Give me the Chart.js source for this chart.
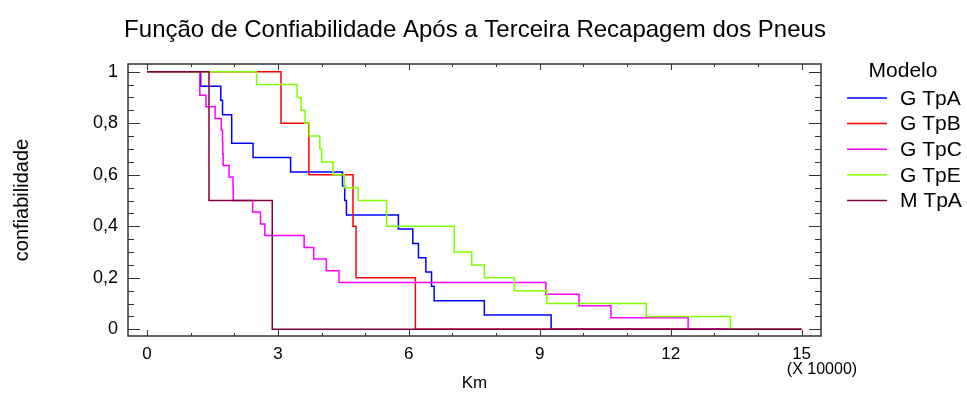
<!DOCTYPE html>
<html>
<head>
<meta charset="utf-8">
<script src="https://cdn.jsdelivr.net/npm/chart.js@4.4.1/dist/chart.umd.min.js"></script>
<style>
  html, body { margin: 0; padding: 0; background: #ffffff; }
  #wrap { width: 967px; height: 394px; }
</style>
</head>
<body>
<div id="wrap"><canvas id="c" width="967" height="394"></canvas></div>
<script>
// Kaplan-Meier reliability curves, distance in units of 10000 km
const seriesLabels = ['G TpA', 'G TpB', 'G TpC', 'G TpE', 'M TpA'];
const seriesColors = ['#0000ff', '#ff0000', '#ff00ff', '#80ff00', '#800040'];

const gtpaKm   = [0, 1.23, 1.69, 1.73, 1.94, 2.43, 3.29, 4.48, 4.53, 4.57, 5.76, 6.09, 6.22, 6.39, 6.52, 6.58, 7.73, 9.26, 15];
const gtpaConf = [1, 0.944, 0.889, 0.833, 0.722, 0.667, 0.611, 0.556, 0.5, 0.444, 0.389, 0.333, 0.278, 0.222, 0.167, 0.111, 0.056, 0, 0];

const gtpbKm   = [0, 3.07, 3.71, 4.72, 4.79, 6.15, 15];
const gtpbConf = [1, 0.8, 0.6, 0.4, 0.2, 0, 0];

const gtpcKm   = [0, 1.21, 1.35, 1.56, 1.70, 1.73, 1.735, 1.745, 1.88, 1.97, 1.975, 2.42, 2.60, 2.70, 3.60, 3.82, 4.11, 4.40, 9.14, 9.90, 10.63, 12.40, 15];
const gtpcConf = [1, 0.909, 0.864, 0.818, 0.773, 0.727, 0.682, 0.636, 0.591, 0.545, 0.5, 0.455, 0.409, 0.364, 0.318, 0.273, 0.227, 0.182, 0.136, 0.091, 0.045, 0, 0];

const gtpeKm   = [0, 2.51, 3.44, 3.53, 3.62, 3.72, 3.96, 4.00, 4.26, 4.52, 4.84, 5.49, 7.04, 7.44, 7.73, 8.42, 9.16, 11.44, 13.37, 15];
const gtpeConf = [1, 0.95, 0.9, 0.85, 0.8, 0.75, 0.7, 0.65, 0.6, 0.55, 0.5, 0.4, 0.3, 0.25, 0.2, 0.15, 0.1, 0.05, 0, 0];

const mtpaKm   = [0, 1.42, 2.87, 15];
const mtpaConf = [1, 0.5, 0, 0];

const seriesKm   = [gtpaKm, gtpbKm, gtpcKm, gtpeKm, mtpaKm];
const seriesConf = [gtpaConf, gtpbConf, gtpcConf, gtpeConf, mtpaConf];

// axis ticks
const xTickValues = [0, 3, 6, 9, 12, 15];
const xMinorTicks = [1, 2, 4, 5, 7, 8, 10, 11, 13, 14];
const yTickValues = [0, 0.2, 0.4, 0.6, 0.8, 1];
const yMinorTicks = [0.05, 0.1, 0.15, 0.25, 0.3, 0.35, 0.45, 0.5, 0.55, 0.65, 0.7, 0.75, 0.85, 0.9, 0.95];

const titleText = 'Função de Confiabilidade Após a Terceira Recapagem dos Pneus';
const xTitle = 'Km';
const yTitle = 'confiabilidade';
const xMultiplier = '(X 10000)';
const legendTitle = 'Modelo';

const FONT = '"Liberation Sans", Arial, Helvetica, sans-serif';
Chart.defaults.font.family = FONT;
Chart.defaults.color = '#000000';

const datasets = seriesLabels.map((label, i) => ({
  label,
  data: seriesKm[i].map((km, j) => ({ x: km, y: seriesConf[i][j] })),
  borderColor: seriesColors[i],
  backgroundColor: seriesColors[i],
  borderWidth: 1.5,
  stepped: 'before',
  pointRadius: 0,
  fill: false,
  order: seriesLabels.length - 1 - i
}));

// frame with inward ticks on all four sides, multiplier note and legend
const framePlugin = {
  id: 'frameTicks',
  afterDatasetsDraw(chart) {
    const { ctx, chartArea: a, scales } = chart;
    const xs = scales.x, ys = scales.y;
    ctx.save();
    ctx.strokeStyle = '#333333';
    ctx.lineWidth = 1.5;
    ctx.strokeRect(a.left, a.top, a.right - a.left, a.bottom - a.top);
    ctx.lineWidth = 1;
    ctx.beginPath();
    const seg = (x0, y0, x1, y1) => { ctx.moveTo(x0, y0); ctx.lineTo(x1, y1); };
    xTickValues.forEach(v => {
      const p = Math.round(xs.getPixelForValue(v)) + 0.5;
      seg(p, a.bottom, p, a.bottom - 6); seg(p, a.top, p, a.top + 6);
    });
    xMinorTicks.forEach(v => {
      const p = Math.round(xs.getPixelForValue(v)) + 0.5;
      seg(p, a.bottom, p, a.bottom - 3); seg(p, a.top, p, a.top + 3);
    });
    yTickValues.forEach(v => {
      const p = Math.round(ys.getPixelForValue(v)) + 0.5;
      seg(a.left, p, a.left + 12, p); seg(a.right, p, a.right - 12, p);
    });
    yMinorTicks.forEach(v => {
      const p = Math.round(ys.getPixelForValue(v)) + 0.5;
      seg(a.left, p, a.left + 6, p); seg(a.right, p, a.right - 6, p);
    });
    ctx.stroke();
    ctx.restore();
  },
  afterDraw(chart) {
    const { ctx, chartArea: a } = chart;
    ctx.save();
    ctx.fillStyle = '#000000';
    ctx.font = '16px ' + FONT;
    ctx.textAlign = 'center';
    ctx.textBaseline = 'middle';
    ctx.fillText(xMultiplier, 822, 370);

    // legend
    const lx = a.right + 26;
    ctx.font = '21px ' + FONT;
    ctx.fillText(legendTitle, 903, 71);
    ctx.textAlign = 'left';
    chart.data.datasets.forEach((ds, i) => {
      const yy = 98 + i * 25.6;
      ctx.strokeStyle = ds.borderColor;
      ctx.lineWidth = 1.5;
      ctx.beginPath();
      ctx.moveTo(lx, yy);
      ctx.lineTo(lx + 40, yy);
      ctx.stroke();
      ctx.fillText(ds.label, lx + 53, yy + 1);
    });
    ctx.restore();
  }
};

new Chart(document.getElementById('c'), {
  type: 'line',
  data: { datasets },
  options: {
    responsive: false,
    animation: false,
    devicePixelRatio: 1,
    layout: { padding: { left: 0, right: 17, top: 0, bottom: 0 } },
    plugins: {
      legend: { display: false },
      tooltip: { enabled: false },
      title: {
        display: true,
        text: titleText,
        font: { size: 24, weight: 'normal', family: FONT },
        color: '#000000',
        padding: { top: 15.6, bottom: 19.6 }
      }
    },
    scales: {
      x: {
        type: 'linear',
        position: 'bottom',
        min: -0.436,
        max: 15.445,
        afterBuildTicks: s => { s.ticks = xTickValues.map(v => ({ value: v })); },
        afterFit: s => { s.height = 58; },
        ticks: { font: { size: 17 }, padding: 8, maxRotation: 0, autoSkip: false, color: '#000000' },
        grid: { display: false, drawTicks: false },
        border: { display: false },
        title: { display: true, text: xTitle, font: { size: 17 }, padding: { top: 0, bottom: 0 }, color: '#000000' }
      },
      y: {
        type: 'linear',
        position: 'left',
        min: -0.026,
        max: 1.030,
        afterBuildTicks: s => { s.ticks = yTickValues.map(v => ({ value: v })); },
        afterFit: s => { s.width = 128; },
        ticks: { font: { size: 18 }, padding: 10, color: '#000000',
                 callback: v => String(v).replace('.', ',') },
        grid: { display: false, drawTicks: false },
        border: { display: false },
        title: { display: true, text: yTitle, font: { size: 20 }, padding: { top: 10, bottom: 0 }, color: '#000000' }
      },
      yRight: {
        type: 'linear',
        position: 'right',
        min: -0.026,
        max: 1.030,
        afterFit: s => { s.width = 129; },
        ticks: { display: false },
        grid: { display: false, drawTicks: false },
        border: { display: false }
      }
    }
  },
  plugins: [framePlugin]
});
</script>
</body>
</html>
